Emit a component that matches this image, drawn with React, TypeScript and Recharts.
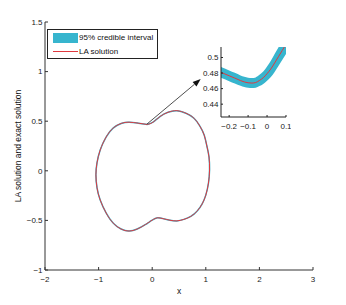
import { LineChart, ComposedChart, Line, Area, XAxis, YAxis, ReferenceLine } from "recharts";

const FONT = "'Liberation Sans', Arial, Helvetica, sans-serif";
const CYAN = "#37b5ce";
const RED = "#e0383e";
const AXIS = "#333";

// main axes
const X_TICKS = [-2, -1, 0, 1, 2, 3];
const Y_TICKS = [-1, -0.5, 0, 0.5, 1, 1.5];

// closed curve (starts and ends at the top dip, runs anticlockwise)
const CURVE_X = [-0.09, -0.26, -0.43, -0.58, -0.73, -0.86, -0.97, -1.03, -1.05, -1.03, -0.97, -0.86, -0.73, -0.58, -0.43, -0.28, -0.13, 0.0, 0.1, 0.2, 0.33, 0.46, 0.59, 0.72, 0.84, 0.93, 1.0, 1.05, 1.07, 1.06, 1.02, 0.97, 0.89, 0.78, 0.63, 0.46, 0.295, 0.145, 0.015, -0.09];
const CURVE_Y = [0.467, 0.48, 0.49, 0.477, 0.43, 0.34, 0.21, 0.08, -0.04, -0.17, -0.295, -0.425, -0.526, -0.587, -0.607, -0.587, -0.543, -0.497, -0.474, -0.482, -0.498, -0.505, -0.49, -0.46, -0.405, -0.335, -0.245, -0.123, 0.008, 0.139, 0.25, 0.36, 0.45, 0.53, 0.58, 0.606, 0.59, 0.547, 0.49, 0.467];

// arrow from the dip to the zoom box
const ARROW = [{ x: -0.1, y: 0.47 }, { x: 0.905, y: 0.925 }];

// inset (zoom on the top dip)
const INSET_X_TICKS = [-0.2, -0.1, 0, 0.1];
const INSET_Y_TICKS = [0.44, 0.46, 0.48, 0.5];
const INSET_X = [-0.26, -0.24, -0.2, -0.17, -0.14, -0.12, -0.1, -0.08, -0.06, -0.04, -0.02, 0, 0.02, 0.04, 0.06, 0.08, 0.1, 0.12];
const INSET_Y = [0.4826, 0.4806, 0.4765, 0.4735, 0.4703, 0.4686, 0.4675, 0.4671, 0.4678, 0.4705, 0.474, 0.4792, 0.4853, 0.493, 0.501, 0.509, 0.517, 0.525];
const INSET_LO = [0.4757, 0.4737, 0.4696, 0.4667, 0.4636, 0.462, 0.461, 0.4607, 0.4612, 0.4633, 0.466, 0.47, 0.4748, 0.4815, 0.489, 0.4968, 0.5046, 0.5125];
const INSET_HI = [0.4895, 0.4875, 0.4834, 0.4803, 0.477, 0.4752, 0.474, 0.4735, 0.4744, 0.4777, 0.482, 0.4884, 0.4958, 0.5045, 0.513, 0.5212, 0.5294, 0.5375];

const curve = CURVE_X.map((x, i) => ({ x, y: CURVE_Y[i] }));
const inset = INSET_X.map((x, i) => ({ x, y: INSET_Y[i], band: [INSET_LO[i], INSET_HI[i]] }));

const fmt = (v: number) => (v < 0 ? "\u2212" + Math.abs(v) : String(v));
const blank = () => "";
const TICK = { fontSize: 8, fill: "#222", fontFamily: FONT };

function ArrowShape(p: any) {
  const { x1, y1, x2, y2 } = p;
  const a = Math.atan2(y2 - y1, x2 - x1);
  const L = 8, W = 3;
  const bx = x2 - L * Math.cos(a);
  const by = y2 - L * Math.sin(a);
  const pts = `${x2},${y2} ${bx + W * Math.sin(a)},${by - W * Math.cos(a)} ${bx - W * Math.sin(a)},${by + W * Math.cos(a)}`;
  return (
    <g>
      <line x1={x1} y1={y1} x2={bx} y2={by} stroke="#222" strokeWidth={0.8} />
      <polygon points={pts} fill="#111" />
    </g>
  );
}

export default function App() {
  return (
    <div style={{ position: "absolute", left: 0, top: 0, width: 346, height: 305, background: "#fff", fontFamily: FONT }}>
      <LineChart width={346} height={305} margin={{ top: 22, right: 33, bottom: 15, left: 15 }}>
        <XAxis dataKey="x" type="number" domain={[-2, 3]} ticks={X_TICKS} allowDataOverflow interval={0}
          tickFormatter={fmt} tick={TICK} tickSize={-3} tickMargin={9} height={20}
          axisLine={{ stroke: AXIS }} tickLine={{ stroke: AXIS }} />
        <XAxis xAxisId="top" orientation="top" type="number" domain={[-2, 3]} ticks={X_TICKS} allowDataOverflow interval={0}
          tickFormatter={blank} tickSize={-3} height={0} axisLine={{ stroke: AXIS }} tickLine={{ stroke: AXIS }} />
        <YAxis type="number" domain={[-1, 1.5]} ticks={Y_TICKS} allowDataOverflow interval={0}
          tickFormatter={fmt} tick={TICK} tickSize={-3} tickMargin={5.5} width={30}
          axisLine={{ stroke: AXIS }} tickLine={{ stroke: AXIS }} />
        <YAxis yAxisId="right" orientation="right" type="number" domain={[-1, 1.5]} ticks={Y_TICKS} allowDataOverflow interval={0}
          tickFormatter={blank} tickSize={-3} width={0} axisLine={{ stroke: AXIS }} tickLine={{ stroke: AXIS }} />
        <Line data={curve} dataKey="y" type="natural" stroke={CYAN} strokeWidth={1.5} dot={false} activeDot={false} isAnimationActive={false} />
        <Line data={curve} dataKey="y" type="natural" stroke={RED} strokeWidth={1} dot={false} activeDot={false} isAnimationActive={false} />
        <ReferenceLine segment={ARROW} shape={ArrowShape} ifOverflow="visible" />
      </LineChart>

      {/* inset */}
      <div style={{ position: "absolute", left: 191, top: 40 }}>
        <ComposedChart width={100} height={95} data={inset} margin={{ top: 7, right: 5, bottom: 2, left: 2 }}>
          <XAxis dataKey="x" type="number" domain={[-0.243, 0.1]} ticks={INSET_X_TICKS} allowDataOverflow interval={0}
            tickFormatter={fmt} tick={TICK} tickSize={-2} tickMargin={8} height={16}
            axisLine={{ stroke: "#222" }} tickLine={{ stroke: "#222" }} />
          <XAxis xAxisId="top" orientation="top" type="number" domain={[-0.243, 0.1]} ticks={INSET_X_TICKS} allowDataOverflow interval={0}
            tickFormatter={blank} tickSize={-2} height={0} axisLine={{ stroke: "#222" }} tickLine={{ stroke: "#222" }} />
          <YAxis type="number" domain={[0.4235, 0.5135]} ticks={INSET_Y_TICKS} allowDataOverflow interval={0}
            tickFormatter={fmt} tick={TICK} tickSize={-2} tickMargin={4.5} width={28}
            axisLine={{ stroke: "#222" }} tickLine={{ stroke: "#222" }} />
          <YAxis yAxisId="right" orientation="right" type="number" domain={[0.4235, 0.5135]} ticks={INSET_Y_TICKS} allowDataOverflow interval={0}
            tickFormatter={blank} tickSize={-2} width={0} axisLine={{ stroke: "#222" }} tickLine={{ stroke: "#222" }} />
          <Area dataKey="band" type="monotone" stroke="none" fill={CYAN} fillOpacity={1} isAnimationActive={false} />
          <Line dataKey="y" type="monotone" stroke={RED} strokeWidth={1} dot={false} activeDot={false} isAnimationActive={false} />
        </ComposedChart>
      </div>

      {/* legend */}
      <div style={{ position: "absolute", left: 47, top: 29, width: 109, height: 28, border: "1px solid #222", background: "#fff", fontSize: 8, color: "#111" }}>
        <div style={{ position: "absolute", left: 5, top: 3, width: 25, height: 10, background: CYAN }} />
        <div style={{ position: "absolute", left: 31, top: 2, lineHeight: "12px", whiteSpace: "nowrap" }}>95% credible interval</div>
        <div style={{ position: "absolute", left: 5, top: 21, width: 25, height: 1, background: RED }} />
        <div style={{ position: "absolute", left: 31, top: 15.5, lineHeight: "12px", whiteSpace: "nowrap" }}>LA solution</div>
      </div>

      {/* axis labels */}
      <div style={{ position: "absolute", left: 18, top: 146, transform: "translate(-50%, -50%) rotate(-90deg)", fontSize: 8.5, color: "#111", whiteSpace: "nowrap" }}>
        LA solution and exact solution
      </div>
      <div style={{ position: "absolute", left: 179, top: 291, transform: "translate(-50%, -50%)", fontSize: 8.5, color: "#111" }}>x</div>
    </div>
  );
}
